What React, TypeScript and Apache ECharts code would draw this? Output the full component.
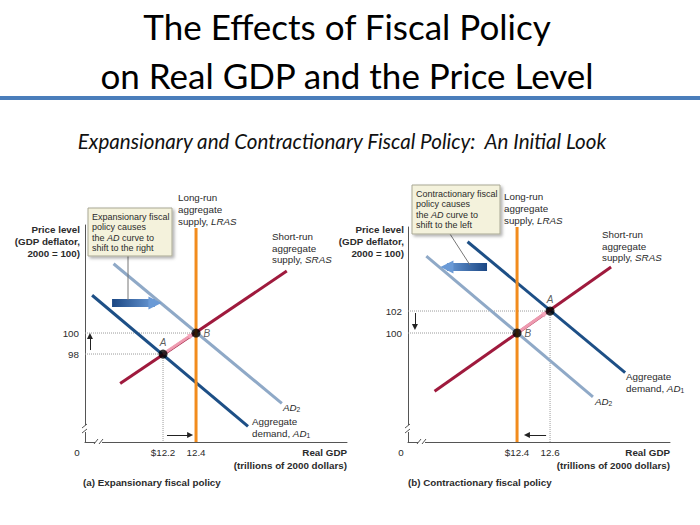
import React, { useEffect, useRef } from 'react';
import * as echarts from 'echarts';

// ---------- Panel (a): expansionary fiscal policy ----------
const xRangeA = [11.727, 13.315];
const yRangeA = [89.62, 110.29];
const xTicksA = [12.2, 12.4];
const yTicksA = [98, 100];
const ad1A = [[11.77, 103.6], [12.715, 91.1]];
const ad2A = [[11.9, 106.6], [12.92, 93.3]];
const srasA = [[11.94, 95.2], [12.95, 105.9]];
const lrasA = [[12.4, 89.62], [12.4, 110.0]];
const eqNamesA = ['A', 'B'];
const eqA = [[12.2, 98], [12.4, 100]];
const shiftArrowA = [[11.891, 102.86], [12.151, 102.86]];
const priceArrowA = [[11.757, 98.38], [11.757, 99.71]];
const gdpArrowA = [[12.224, 90.29], [12.364, 90.29]];
const moveA = [[12.2, 98], [12.37, 99.8]];

// ---------- Panel (b): contractionary fiscal policy ----------
const xRangeB = [11.739, 13.327];
const yRangeB = [90.09, 109.64];
const xTicksB = [12.4, 12.6];
const yTicksB = [100, 102];
const ad1B = [[12.1, 108.3], [13.055, 96.4]];
const ad2B = [[11.85, 107.0], [12.86, 94.2]];
const srasB = [[11.9, 94.7], [12.97, 106.0]];
const lrasB = [[12.4, 90.09], [12.4, 109.64]];
const eqNamesB = ['A', 'B'];
const eqB = [[12.6, 102], [12.4, 100]];
const shiftArrowB = [[12.218, 106], [11.975, 106]];
const priceArrowB = [[11.781, 101.82], [11.781, 100.55]];
const gdpArrowB = [[12.576, 90.73], [12.46, 90.73]];
const moveB = [[12.4, 100], [12.57, 101.8]];

const FONT = '"Liberation Sans", Arial, Helvetica, sans-serif';
const TITLE_FONT = 'Lato, "Open Sans", sans-serif';
const TXT = '#2b2b2b';
const C_AD1 = '#1d4f86';
const C_AD2 = '#8fa9c7';
const C_SRAS = '#9f1a3d';
const C_LRAS = '#f28c1c';
const LBL = 9.8;

function richFor(size: number, bold: boolean) {
  return {
    i: { fontStyle: 'italic', fontSize: size, fontFamily: FONT, fontWeight: bold ? 'bold' : 'normal', fill: TXT },
    s: { fontSize: size * 0.68, lineHeight: 8, verticalAlign: 'bottom', fontFamily: FONT, fill: TXT },
  };
}

function txt(x: number, y: number, text: string, o: any = {}) {
  const size = o.size || LBL;
  return {
    type: 'text',
    x,
    y,
    z: 100,
    style: {
      text,
      fontFamily: o.font || FONT,
      fontSize: size,
      fontWeight: o.bold ? 'bold' : 'normal',
      fontStyle: o.italic ? 'italic' : 'normal',
      fill: o.color || TXT,
      textAlign: o.align || 'left',
      textVerticalAlign: o.valign || 'top',
      lineHeight: o.lh || 11.5,
      rich: richFor(size, !!o.bold),
    },
  };
}

type Px = ((i: number, p: number[]) => number[]) | null;

function panelSeries(
  i: number,
  px: Px,
  xr: number[],
  yr: number[],
  ad1: number[][],
  ad2: number[][],
  sras: number[][],
  lras: number[][],
  eqNames: string[],
  eq: number[][],
  shift: number[][],
  price: number[][],
  gdp: number[][],
  move: number[][]
) {
  const ax = { xAxisIndex: i, yAxisIndex: i };
  const base = { type: 'line', symbol: 'none', silent: true, ...ax };
  const out: any[] = [];
  eq.forEach((p) => {
    out.push({
      ...base,
      data: [[xr[0], p[1]], [p[0], p[1]]],
      lineStyle: { color: '#9a9a9a', width: 1, type: 'dotted' },
      z: 1,
    });
    out.push({
      ...base,
      data: [[p[0], p[1]], [p[0], yr[0]]],
      lineStyle: { color: '#9a9a9a', width: 1, type: 'dotted' },
      z: 1,
    });
  });
  out.push({ ...base, data: ad2, lineStyle: { color: C_AD2, width: 3 }, z: 3 });
  out.push({ ...base, data: ad1, lineStyle: { color: C_AD1, width: 3 }, z: 3 });
  out.push({ ...base, data: sras, lineStyle: { color: C_SRAS, width: 3 }, z: 4 });
  out.push({
    type: 'lines',
    coordinateSystem: 'cartesian2d',
    ...ax,
    silent: true,
    data: [{ coords: move }],
    symbol: ['none', 'triangle'],
    symbolSize: 6,
    lineStyle: { color: 'rgba(246,168,188,0.9)', width: 3, opacity: 1 },
    z: 5,
  });
  out.push({ ...base, data: lras, lineStyle: { color: C_LRAS, width: 3 }, z: 6 });

  // big shift arrow: gradient shaft (dark tail -> light head) + light head
  let shaftColor: any = '#2f62a6';
  if (px) {
    const a = px(i, shift[0]);
    const b = px(i, shift[1]);
    shaftColor = new echarts.graphic.LinearGradient(
      a[0], a[1], b[0], b[1],
      [{ offset: 0, color: '#1a4683' }, { offset: 1, color: '#6a9ad6' }],
      true
    );
  }
  out.push({
    type: 'lines',
    coordinateSystem: 'cartesian2d',
    ...ax,
    silent: true,
    data: [{ coords: shift }],
    symbol: 'none',
    lineStyle: { width: 8, opacity: 1, color: shaftColor },
    z: 7,
  });
  out.push({
    type: 'lines',
    coordinateSystem: 'cartesian2d',
    ...ax,
    silent: true,
    data: [{ coords: shift }],
    symbol: ['none', 'triangle'],
    symbolSize: [17, 13],
    lineStyle: { width: 0, opacity: 1, color: '#6a9ad6' },
    z: 8,
  });
  out.push({
    type: 'lines',
    coordinateSystem: 'cartesian2d',
    ...ax,
    silent: true,
    data: [{ coords: price }, { coords: gdp }],
    symbol: ['none', 'triangle'],
    symbolSize: [5, 6],
    lineStyle: { color: '#222', width: 1, opacity: 1 },
    z: 7,
  });
  out.push({
    type: 'scatter',
    ...ax,
    silent: true,
    symbolSize: 9,
    itemStyle: { color: '#000' },
    z: 10,
    data: eq.map((p, k) => ({
      value: p,
      name: eqNames[k],
      label: {
        show: true,
        formatter: eqNames[k],
        position: eqNames[k] === 'A' ? 'top' : 'right',
        distance: eqNames[k] === 'A' ? 2 : 3,
        fontStyle: 'italic',
        fontSize: 10,
        fontFamily: FONT,
        color: '#333',
      },
    })),
  });
  return out;
}

function axisX(i: number, r: number[], ticks: number[]) {
  return {
    type: 'value',
    gridIndex: i,
    min: r[0],
    max: r[1],
    splitLine: { show: false },
    axisTick: { show: false },
    axisLine: { show: true, onZero: false, lineStyle: { color: '#555', width: 1 } },
    axisLabel: {
      customValues: ticks,
      formatter: (v: number) => (v === ticks[0] ? '$' : '') + v.toFixed(1),
      fontSize: LBL,
      fontFamily: FONT,
      color: TXT,
      margin: 5,
    },
  };
}

function axisY(i: number, r: number[], ticks: number[]) {
  return {
    type: 'value',
    gridIndex: i,
    min: r[0],
    max: r[1],
    splitLine: { show: false },
    axisTick: { show: false },
    axisLine: { show: true, onZero: false, lineStyle: { color: '#555', width: 1 } },
    axisLabel: {
      customValues: ticks,
      formatter: (v: number) => String(v),
      fontSize: LBL,
      fontFamily: FONT,
      color: TXT,
      margin: 6,
    },
  };
}

function breakMarks(ax: number, ay: number) {
  const st = { stroke: '#555', lineWidth: 1 };
  return [
    { type: 'rect', z: 50, shape: { x: ax - 3, y: ay - 17, width: 6, height: 7 }, style: { fill: '#fff' } },
    { type: 'line', z: 51, shape: { x1: ax - 3, y1: ay - 14, x2: ax + 2, y2: ay - 18 }, style: st },
    { type: 'line', z: 51, shape: { x1: ax - 3, y1: ay - 9, x2: ax + 2, y2: ay - 13 }, style: st },
    { type: 'rect', z: 50, shape: { x: ax + 10, y: ay - 3, width: 7, height: 6 }, style: { fill: '#fff' } },
    { type: 'line', z: 51, shape: { x1: ax + 9, y1: ay + 2, x2: ax + 13, y2: ay - 3 }, style: st },
    { type: 'line', z: 51, shape: { x1: ax + 14, y1: ay + 2, x2: ax + 18, y2: ay - 3 }, style: st },
  ];
}

function callout(x: number, y: number, w: number, h: number, text: string, lx1: number, ly1: number, lx2: number, ly2: number) {
  return [
    { type: 'line', z: 40, shape: { x1: lx1, y1: ly1, x2: lx2, y2: ly2 }, style: { stroke: '#777', lineWidth: 1 } },
    {
      type: 'rect',
      z: 90,
      shape: { x, y, width: w, height: h },
      style: {
        fill: '#f4f2dc',
        stroke: '#a9a894',
        lineWidth: 1,
        shadowBlur: 3,
        shadowOffsetX: 2,
        shadowOffsetY: 2,
        shadowColor: 'rgba(0,0,0,0.3)',
      },
    },
    txt(x + 4, y + 3.8, text, { size: 9, lh: 10.4 }),
  ];
}

function buildOption(px: Px) {
  const graphic: any[] = [
    txt(347, 26, 'The Effects of Fiscal Policy', { font: TITLE_FONT, size: 35, align: 'center', valign: 'middle', color: '#000' }),
    txt(347, 75, 'on Real GDP and the Price Level', { font: TITLE_FONT, size: 35, align: 'center', valign: 'middle', color: '#000' }),
    { type: 'rect', z: 5, shape: { x: 0, y: 96, width: 700, height: 4 }, style: { fill: '#4a7ebb' } },
    txt(342, 141, 'Expansionary and Contractionary Fiscal Policy:  An Initial Look', { font: TITLE_FONT, size: 20.6, italic: true, align: 'center', valign: 'middle', color: '#111' }),

    txt(178, 191, 'Long-run\naggregate\nsupply, {i|LRAS}', { lh: 12 }),
    txt(272, 231, 'Short-run\naggregate\nsupply, {i|SRAS}', { lh: 11.5 }),
    txt(80, 223, 'Price level\n(GDP deflator,\n2000 = 100)', { bold: true, align: 'right', lh: 12 }),
    txt(283, 407, '{i|AD}{s|2}', { valign: 'middle' }),
    txt(252, 416, 'Aggregate\ndemand, {i|AD}{s|1}', { lh: 11.5 }),
    txt(347, 445.5, 'Real GDP\n(trillions of 2000 dollars)', { bold: true, align: 'right', lh: 13 }),
    txt(83, 482, '(a) Expansionary fiscal policy', { bold: true, valign: 'middle' }),
    txt(77, 452, '0', { align: 'center', valign: 'middle' }),
    ...callout(88, 208, 84, 48, 'Expansionary fiscal\npolicy causes\nthe {i|AD} curve to\nshift to the right', 128, 256, 128, 300),
    ...breakMarks(85, 442),

    txt(504, 191, 'Long-run\naggregate\nsupply, {i|LRAS}', { lh: 11.8 }),
    txt(602, 229, 'Short-run\naggregate\nsupply, {i|SRAS}', { lh: 11.5 }),
    txt(404, 223, 'Price level\n(GDP deflator,\n2000 = 100)', { bold: true, align: 'right', lh: 12 }),
    txt(595, 401, '{i|AD}{s|2}', { valign: 'middle' }),
    txt(626, 371, 'Aggregate\ndemand, {i|AD}{s|1}', { lh: 11.5 }),
    txt(670, 445.5, 'Real GDP\n(trillions of 2000 dollars)', { bold: true, align: 'right', lh: 13 }),
    txt(408, 482, '(b) Contractionary fiscal policy', { bold: true, valign: 'middle' }),
    txt(401, 452, '0', { align: 'center', valign: 'middle' }),
    ...callout(412, 185, 88, 49, 'Contractionary fiscal\npolicy causes\nthe {i|AD} curve to\nshift to the left', 450, 234, 470, 265),
    ...breakMarks(408, 442),
  ];
  return {
    animation: false,
    backgroundColor: '#fff',
    grid: [
      { left: 85, top: 225, width: 262, height: 217 },
      { left: 408, top: 227, width: 262, height: 215 },
    ],
    xAxis: [axisX(0, xRangeA, xTicksA), axisX(1, xRangeB, xTicksB)],
    yAxis: [axisY(0, yRangeA, yTicksA), axisY(1, yRangeB, yTicksB)],
    series: [
      ...panelSeries(0, px, xRangeA, yRangeA, ad1A, ad2A, srasA, lrasA, eqNamesA, eqA, shiftArrowA, priceArrowA, gdpArrowA, moveA),
      ...panelSeries(1, px, xRangeB, yRangeB, ad1B, ad2B, srasB, lrasB, eqNamesB, eqB, shiftArrowB, priceArrowB, gdpArrowB, moveB),
    ],
    graphic,
  };
}

export default function App() {
  const ref = useRef<HTMLDivElement>(null);
  useEffect(() => {
    if (!ref.current) return;
    const chart = echarts.init(ref.current, undefined, { renderer: 'svg' });
    chart.setOption(buildOption(null));
    const px = (i: number, p: number[]) =>
      chart.convertToPixel({ xAxisIndex: i, yAxisIndex: i }, p) as number[];
    chart.setOption(buildOption(px));
    return () => chart.dispose();
  }, []);
  return (
    <div
      ref={ref}
      style={{ position: 'absolute', left: 0, top: 0, width: 700, height: 525, background: '#fff' }}
    />
  );
}
